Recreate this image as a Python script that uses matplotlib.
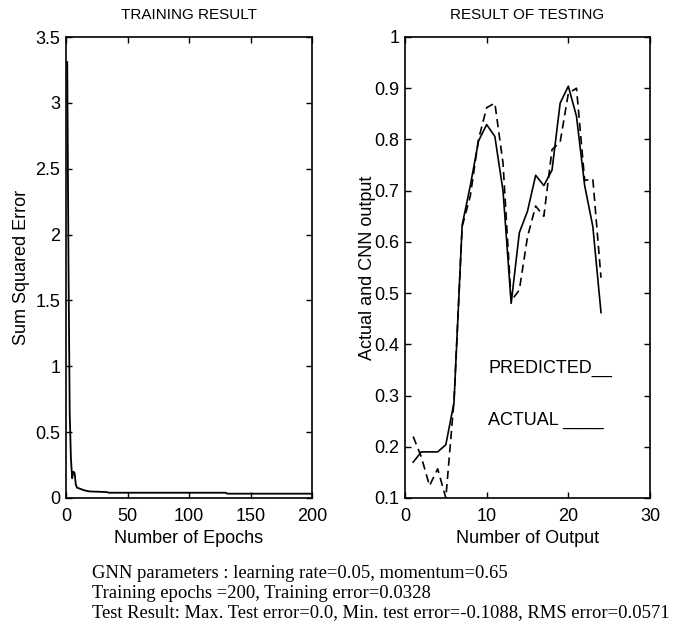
import matplotlib
matplotlib.use("Agg")
import matplotlib.pyplot as plt

# ---- data ----
epochs = [1, 2, 3, 4, 5, 6, 7, 8, 9, 10, 12, 15, 19, 25, 33, 35, 130, 131, 200]
sse = [3.31, 1.8, 0.65, 0.3, 0.15, 0.20, 0.19, 0.10, 0.078, 0.075, 0.068, 0.058,
       0.050, 0.048, 0.045, 0.040, 0.040, 0.0328, 0.0328]

outputs = list(range(1, 25))
actual = [0.17, 0.19, 0.19, 0.19, 0.204, 0.286, 0.633, 0.71, 0.797, 0.829, 0.806, 0.70,
          0.48, 0.618, 0.66, 0.73, 0.71, 0.74, 0.871, 0.904, 0.845, 0.71, 0.63, 0.462]
predicted = [0.22, 0.18, 0.124, 0.157, 0.10, 0.29, 0.63, 0.69, 0.80, 0.862, 0.871, 0.754,
             0.485, 0.506, 0.61, 0.67, 0.65, 0.78, 0.795, 0.89, 0.90, 0.72, 0.723, 0.53]

left_title = "TRAINING RESULT"
right_title = "RESULT OF TESTING"
notes = ["GNN parameters : learning rate=0.05, momentum=0.65",
         "Training epochs =200, Training error=0.0328",
         "Test Result: Max. Test error=0.0, Min. test error=-0.1088, RMS error=0.0571"]

plt.rcParams['font.family'] = ['Liberation Sans', 'DejaVu Sans']

W, H = 679, 625
fig = plt.figure(figsize=(W / 100, H / 100), dpi=100)

def ax_at(l, t, r, b):
    return fig.add_axes([l / W, 1 - b / H, (r - l) / W, (b - t) / H])

ax1 = ax_at(66, 37, 312, 498)
ax2 = ax_at(405, 37, 650, 498)

for ax in (ax1, ax2):
    ax.tick_params(direction='in', top=True, right=True, length=4, width=1,
                   labelsize=13, color='black')
    ax.tick_params(axis='x', pad=7)
    ax.tick_params(axis='y', pad=4)
    for s in ax.spines.values():
        s.set_linewidth(1.2)

ax1.plot(epochs, sse, color='black', lw=1.3)
ax1.set_xlim(0, 200)
ax1.set_ylim(0, 3.5)
ax1.set_xticks([0, 50, 100, 150, 200])
ax1.set_yticks([0, 0.5, 1, 1.5, 2, 2.5, 3, 3.5])
ax1.set_yticklabels(['0', '0.5', '1', '1.5', '2', '2.5', '3', '3.5'])
ax1.set_xlabel("Number of Epochs", fontsize=13, labelpad=4)
ax1.set_ylabel("Sum Squared Error", fontsize=13, labelpad=4)
ax1.set_title(left_title, fontsize=11, pad=13)

ax2.plot(outputs, actual, color='black', lw=1.2, ls='-')
ax2.plot(outputs, predicted, color='black', lw=1.2, ls=(0, (5, 3)))
ax2.set_xlim(0, 30)
ax2.set_ylim(0.1, 1.0)
ax2.set_xticks([0, 10, 20, 30])
ax2.set_yticks([0.1, 0.2, 0.3, 0.4, 0.5, 0.6, 0.7, 0.8, 0.9, 1.0])
ax2.set_yticklabels(['0.1', '0.2', '0.3', '0.4', '0.5', '0.6', '0.7', '0.8', '0.9', '1'])
ax2.set_xlabel("Number of Output", fontsize=13, labelpad=4)
ax2.set_ylabel("Actual and CNN output", fontsize=13, labelpad=-1)
ax2.set_title(right_title, fontsize=11, pad=13)
ax2.text(10.2, 0.353, "PREDICTED__", fontsize=13, va='center', ha='left')
ax2.text(10.2, 0.252, "ACTUAL ____", fontsize=13, va='center', ha='left')

for i, line in enumerate(notes):
    fig.text(92 / W, 1 - (573 + 20 * i) / H, line, fontsize=13.4,
             family=['Liberation Serif', 'DejaVu Serif'], va='center', ha='left')

fig.savefig("out.png", dpi=100)
